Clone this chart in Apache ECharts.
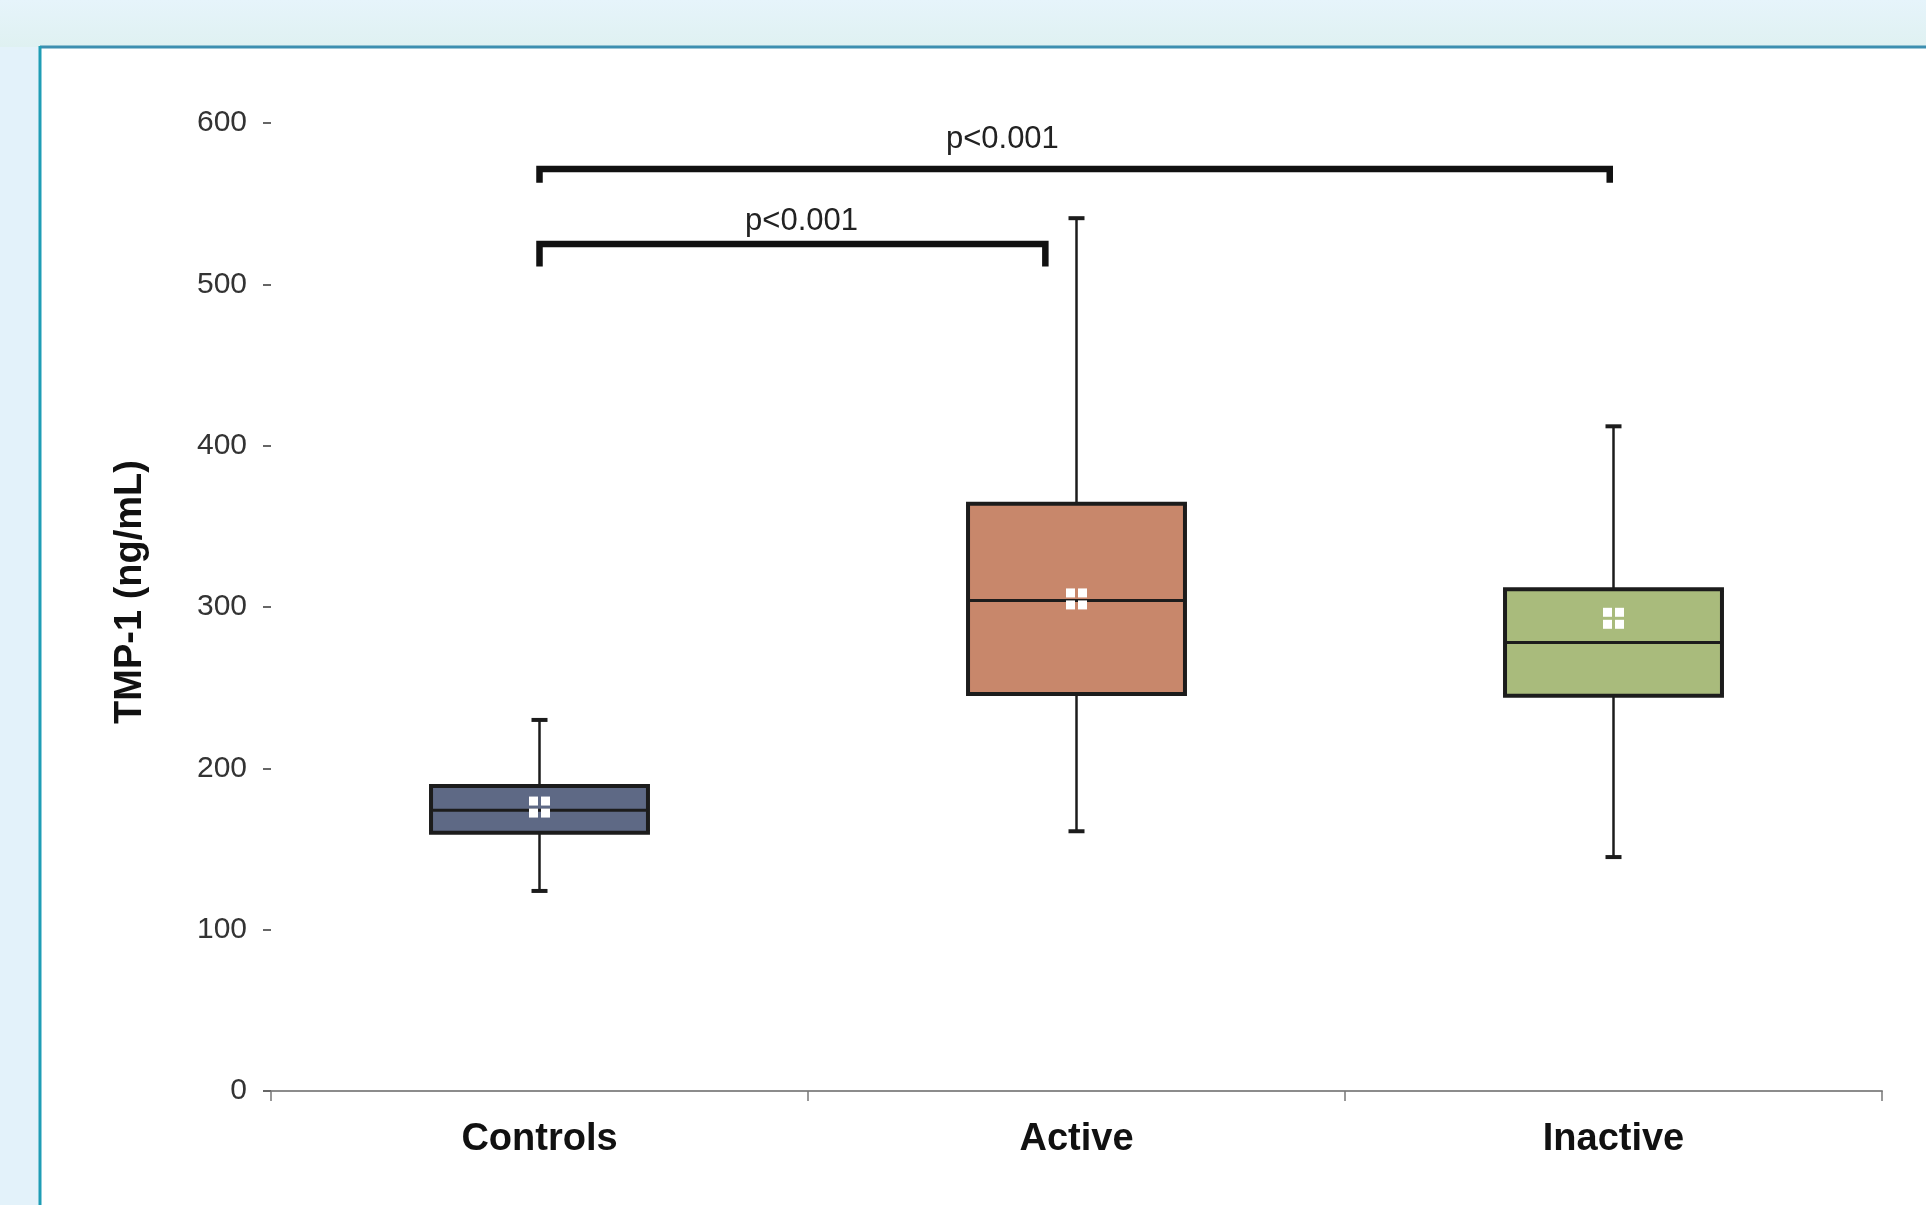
<!DOCTYPE html>
<html>
<head>
<meta charset="utf-8">
<script src="https://cdn.jsdelivr.net/npm/echarts@6/dist/echarts.min.js"></script>
<style>
html,body{margin:0;padding:0;width:1926px;height:1205px;overflow:hidden;background:#e3f2fa;}
#chart{width:1926px;height:1205px;}
</style>
</head>
<body>
<div id="chart"></div>
<script>
// ---- data ----
const categories = ['Controls', 'Active', 'Inactive'];
const whiskerLow  = [124, 161, 145];
const q1          = [160, 246, 245];
const median      = [174, 304, 278];
const q3          = [189, 364, 311];
const whiskerHigh = [230, 541, 412];
const means       = [176, 305, 293];
const boxColors   = ['#5e6985', '#c8876b', '#a9bb7c'];

const yMin = 0, yMax = 600, yInterval = 100;
const yTitle = 'TMP-1 (ng/mL)';

// significance brackets (x in category-band units 0..3, y in ng/mL)
const bracketLabels = ['p<0.001', 'p<0.001'];
const bracketFrom   = [0.5, 0.5];
const bracketTo     = [1.442, 2.493];
const bracketLevel  = [525, 571.5];
const bracketFoot   = [511, 563];
const labelPosX     = [0.988, 1.362];
const labelPosY     = [539, 590];

const boxData = categories.map((c, i) => [i, whiskerLow[i], q1[i], median[i], q3[i], whiskerHigh[i], means[i]]);
const bracketData = bracketLabels.map((t, i) => [bracketFrom[i], bracketTo[i], bracketLevel[i], bracketFoot[i], labelPosX[i], labelPosY[i]]);

const chart = echarts.init(document.getElementById('chart'));
const FONT = '"Liberation Sans", Arial, sans-serif';

function renderBox(params, api) {
  const i = api.value(0);
  const cx = api.coord([i, 0])[0];
  const band = api.size([1, 0])[0];
  const bw = band * 0.404;
  const yLo = api.coord([i, api.value(1)])[1];
  const yQ1 = api.coord([i, api.value(2)])[1];
  const yMed = api.coord([i, api.value(3)])[1];
  const yQ3 = api.coord([i, api.value(4)])[1];
  const yHi = api.coord([i, api.value(5)])[1];
  const yMean = api.coord([i, api.value(6)])[1];
  const dark = '#1c1c1c';
  const capHalf = 8;
  const children = [
    {type: 'line', shape: {x1: cx, y1: yHi, x2: cx, y2: yQ3}, style: {stroke: dark, lineWidth: 2.5}},
    {type: 'line', shape: {x1: cx, y1: yQ1, x2: cx, y2: yLo}, style: {stroke: dark, lineWidth: 2.5}},
    {type: 'line', shape: {x1: cx - capHalf, y1: yHi, x2: cx + capHalf, y2: yHi}, style: {stroke: dark, lineWidth: 4}},
    {type: 'line', shape: {x1: cx - capHalf, y1: yLo, x2: cx + capHalf, y2: yLo}, style: {stroke: dark, lineWidth: 4}},
    {type: 'rect', shape: {x: cx - bw / 2, y: yQ3, width: bw, height: yQ1 - yQ3},
      style: {fill: boxColors[i], stroke: dark, lineWidth: 4}},
    {type: 'line', shape: {x1: cx - bw / 2, y1: yMed, x2: cx + bw / 2, y2: yMed}, style: {stroke: dark, lineWidth: 3}}
  ];
  const s = 9, g = 1.5;
  [[-s - g, -s - g], [g, -s - g], [-s - g, g], [g, g]].forEach(function (o) {
    children.push({type: 'rect', shape: {x: cx + o[0], y: yMean + o[1], width: s, height: s}, style: {fill: '#ffffff'}});
  });
  return {type: 'group', children: children};
}

function renderBracket(params, api) {
  const idx = params.dataIndex;
  const p1 = api.coord([api.value(0), api.value(2)]);
  const p2 = api.coord([api.value(1), api.value(2)]);
  const foot = api.coord([api.value(0), api.value(3)])[1];
  const lab = api.coord([api.value(4), api.value(5)]);
  return {type: 'group', children: [
    {type: 'polyline', shape: {points: [[p1[0], foot], [p1[0], p1[1]], [p2[0], p2[1]], [p2[0], foot]]},
      style: {stroke: '#111', lineWidth: 6.5, fill: null, lineJoin: 'miter'}},
    {type: 'text', x: lab[0], y: lab[1],
      style: {text: bracketLabels[idx], fill: '#222', font: '31px ' + FONT, align: 'center', verticalAlign: 'middle'}}
  ]};
}

const option = {
  animation: false,
  backgroundColor: 'transparent',
  graphic: [
    {type: 'rect', z: -10, shape: {x: 0, y: 0, width: 1926, height: 47},
      style: {fill: new echarts.graphic.LinearGradient(0, 0, 0, 1, [{offset: 0, color: '#e6f4fb'}, {offset: 1, color: '#dff1f1'}])}},
    {type: 'rect', z: -10, shape: {x: 40, y: 47, width: 1886, height: 1158}, style: {fill: '#ffffff'}},
    {type: 'line', z: -9, shape: {x1: 40, y1: 47, x2: 1926, y2: 47}, style: {stroke: '#3d8fb0', lineWidth: 3}},
    {type: 'line', z: -9, shape: {x1: 40, y1: 46, x2: 40, y2: 1205}, style: {stroke: '#1f9db5', lineWidth: 3}},
    {type: 'line', z: -1, shape: {x1: 264, y1: 1091, x2: 272, y2: 1091}, style: {stroke: '#8c8c8c', lineWidth: 2}},
    {type: 'text', x: 131, y: 592, rotation: Math.PI / 2,
      style: {text: yTitle, fill: '#111', font: 'bold 38px ' + FONT, align: 'center', verticalAlign: 'middle'}}
  ],
  grid: {left: 271, right: 44, top: 123, bottom: 114, containLabel: false},
  xAxis: [
    {
      type: 'category', data: categories, boundaryGap: true,
      axisLine: {show: true, lineStyle: {color: '#8c8c8c', width: 2}},
      axisTick: {show: true, length: 10, lineStyle: {color: '#777', width: 1.5}},
      axisLabel: {margin: 30, fontSize: 38, fontWeight: 'bold', color: '#111', fontFamily: FONT},
      splitLine: {show: false}
    },
    {type: 'value', min: 0, max: 3, show: false}
  ],
  yAxis: {
    type: 'value', min: yMin, max: yMax, interval: yInterval,
    axisLine: {show: false},
    axisTick: {show: true, length: 8, lineStyle: {color: '#666', width: 2}},
    axisLabel: {margin: 24, fontSize: 30, color: '#333', fontFamily: FONT},
    splitLine: {show: false}
  },
  series: [
    {type: 'custom', xAxisIndex: 0, yAxisIndex: 0, renderItem: renderBox, data: boxData, z: 3},
    {type: 'custom', xAxisIndex: 1, yAxisIndex: 0, renderItem: renderBracket, data: bracketData, z: 4}
  ]
};
chart.setOption(option);
</script>
</body>
</html>
